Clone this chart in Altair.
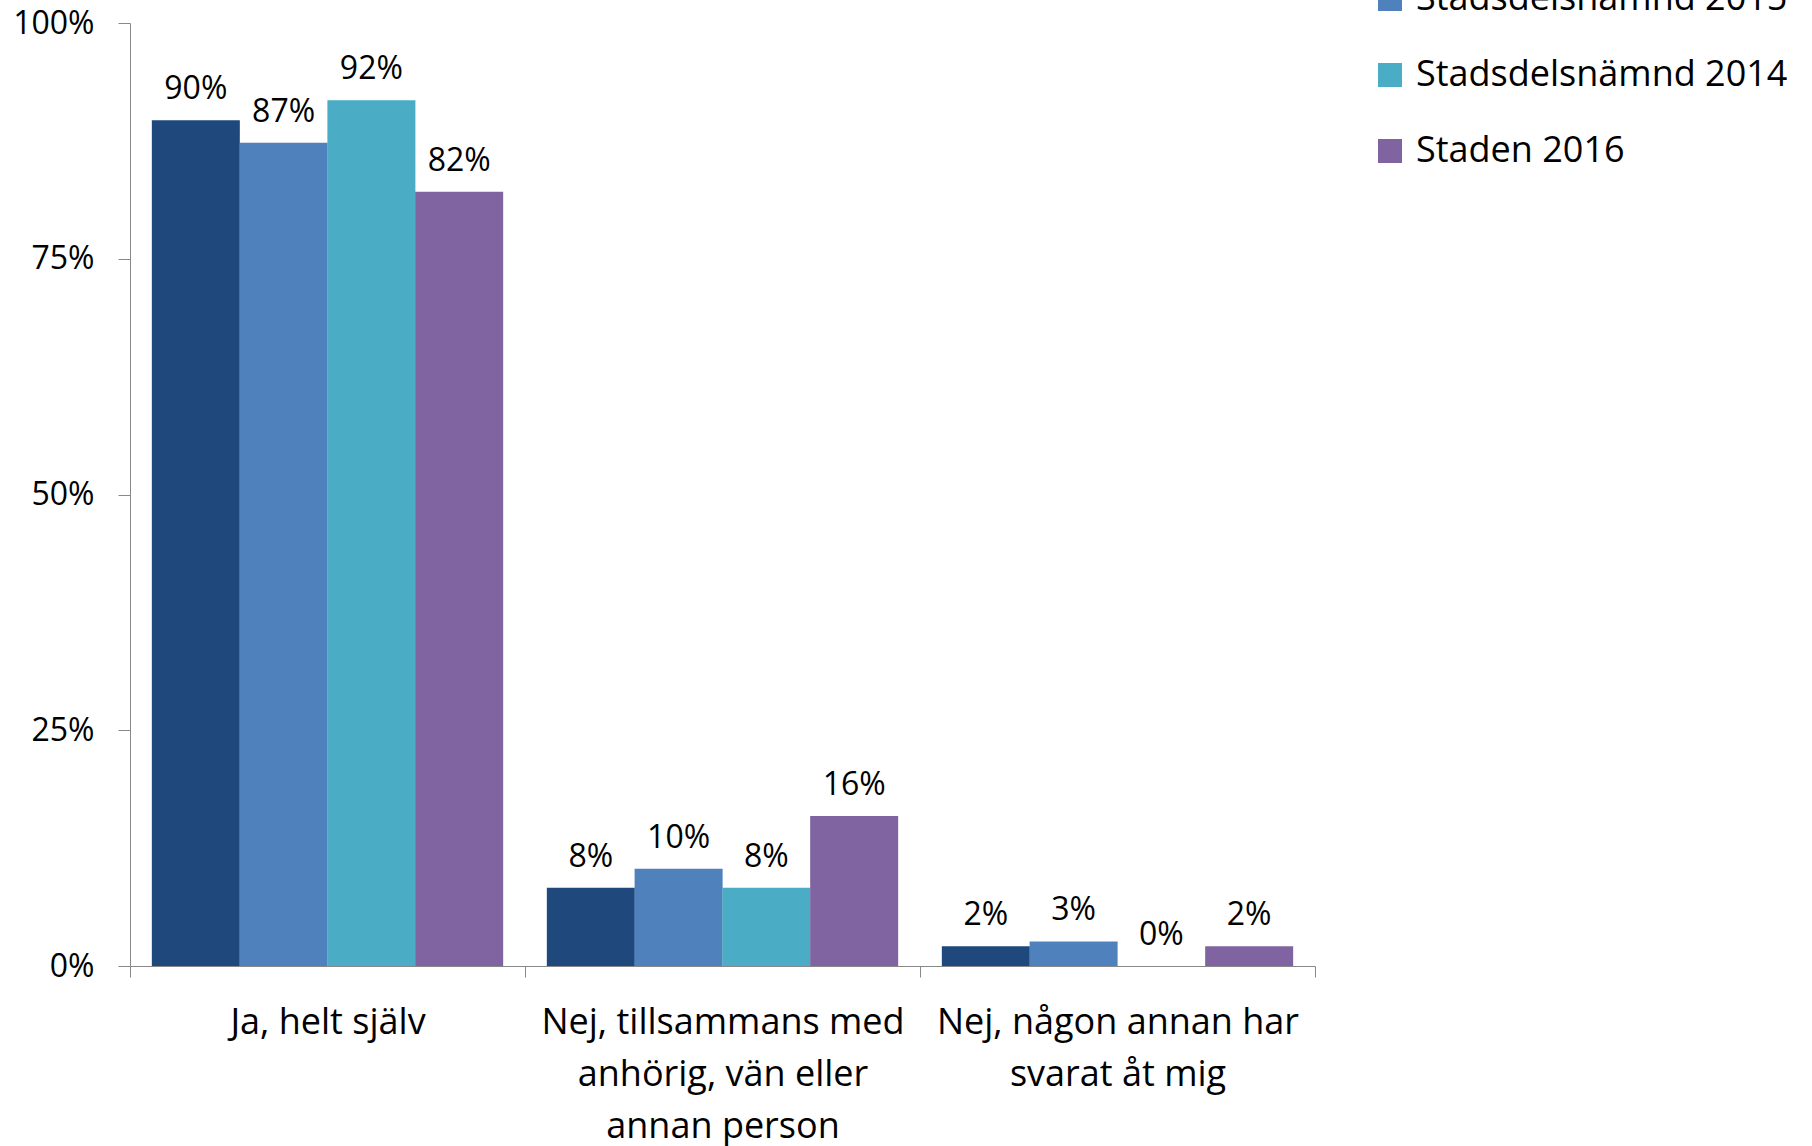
import json
import altair as alt
import pandas as pd

categories = ["Ja, helt själv",
              "Nej, tillsammans med anhörig, vän eller annan person",
              "Nej, någon annan har svarat åt mig"]
category_lines = [["Ja, helt själv"],
                  ["Nej, tillsammans med", "anhörig, vän eller", "annan person"],
                  ["Nej, någon annan har", "svarat åt mig"]]
series = ["Stadsdelsnämnd 2016", "Stadsdelsnämnd 2015", "Stadsdelsnämnd 2014", "Staden 2016"]
colors = ["#1F497D", "#4F81BD", "#4BACC6", "#8064A2"]

sdn2016 = [0.897, 0.083, 0.021]
sdn2015 = [0.873, 0.103, 0.026]
sdn2014 = [0.918, 0.083, 0.0]
staden2016 = [0.821, 0.159, 0.021]

rows = []
for s, vals in zip(series, [sdn2016, sdn2015, sdn2014, staden2016]):
    for c, v in zip(categories, vals):
        rows.append({"cat": c, "series": s, "value": v})
df = pd.DataFrame(rows)

label_expr = ""
for c, lines in zip(categories, category_lines):
    label_expr += f"datum.label == {json.dumps(c)} ? {json.dumps(lines)} : "
label_expr += "datum.label"

FONT = "Open Sans"
FS = 32
FS_BIG = 36
GRAY = "#888888"

x = alt.X("cat:N", sort=categories, title=None,
          scale=alt.Scale(paddingInner=0, paddingOuter=0),
          axis=alt.Axis(labelAngle=0, labelExpr=label_expr, labelFontSize=FS_BIG,
                        labelLineHeight=52, labelPadding=28, tickBand="extent",
                        tickSize=11, domainColor=GRAY, tickColor=GRAY,
                        labelColor="black", labelFont=FONT, labelLimit=600))
xo = alt.XOffset("series:N", sort=series,
                 scale=alt.Scale(paddingOuter=0.25, paddingInner=0))
y = alt.Y("value:Q", title=None,
          scale=alt.Scale(domain=[0, 1], nice=False),
          axis=alt.Axis(values=[0, 0.25, 0.5, 0.75, 1], format=".0%", grid=False,
                        labelFontSize=FS, labelFont=FONT, labelColor="black",
                        domainColor=GRAY, tickColor=GRAY, tickSize=12, labelPadding=24))
color = alt.Color("series:N", sort=series,
                  scale=alt.Scale(domain=series, range=colors),
                  legend=alt.Legend(title=None, orient="none", legendX=1242, legendY=-118,
                                    symbolType="square", symbolSize=576, symbolStrokeWidth=0,
                                    labelFontSize=FS_BIG, labelFont=FONT, labelColor="black",
                                    labelOffset=8, rowPadding=40, padding=0, labelLimit=600))

base = alt.Chart(df)
bars = base.mark_bar(size=88).encode(x=x, xOffset=xo, y=y, color=color)
texts = base.mark_text(baseline="bottom", dy=-14, fontSize=FS, font=FONT, color="black").encode(
    x=x, xOffset=xo, y=y, text=alt.Text("value:Q", format=".0%"))

chart = (bars + texts).properties(
    width=1185, height=943,
    autosize=alt.AutoSizeParams(type="none"),
    padding={"left": 130, "top": 23, "right": 497, "bottom": 180},
).configure(font=FONT).configure_view(stroke="transparent", strokeWidth=0)

chart.save("out.html", embed_options={"renderer": "svg", "actions": False})
